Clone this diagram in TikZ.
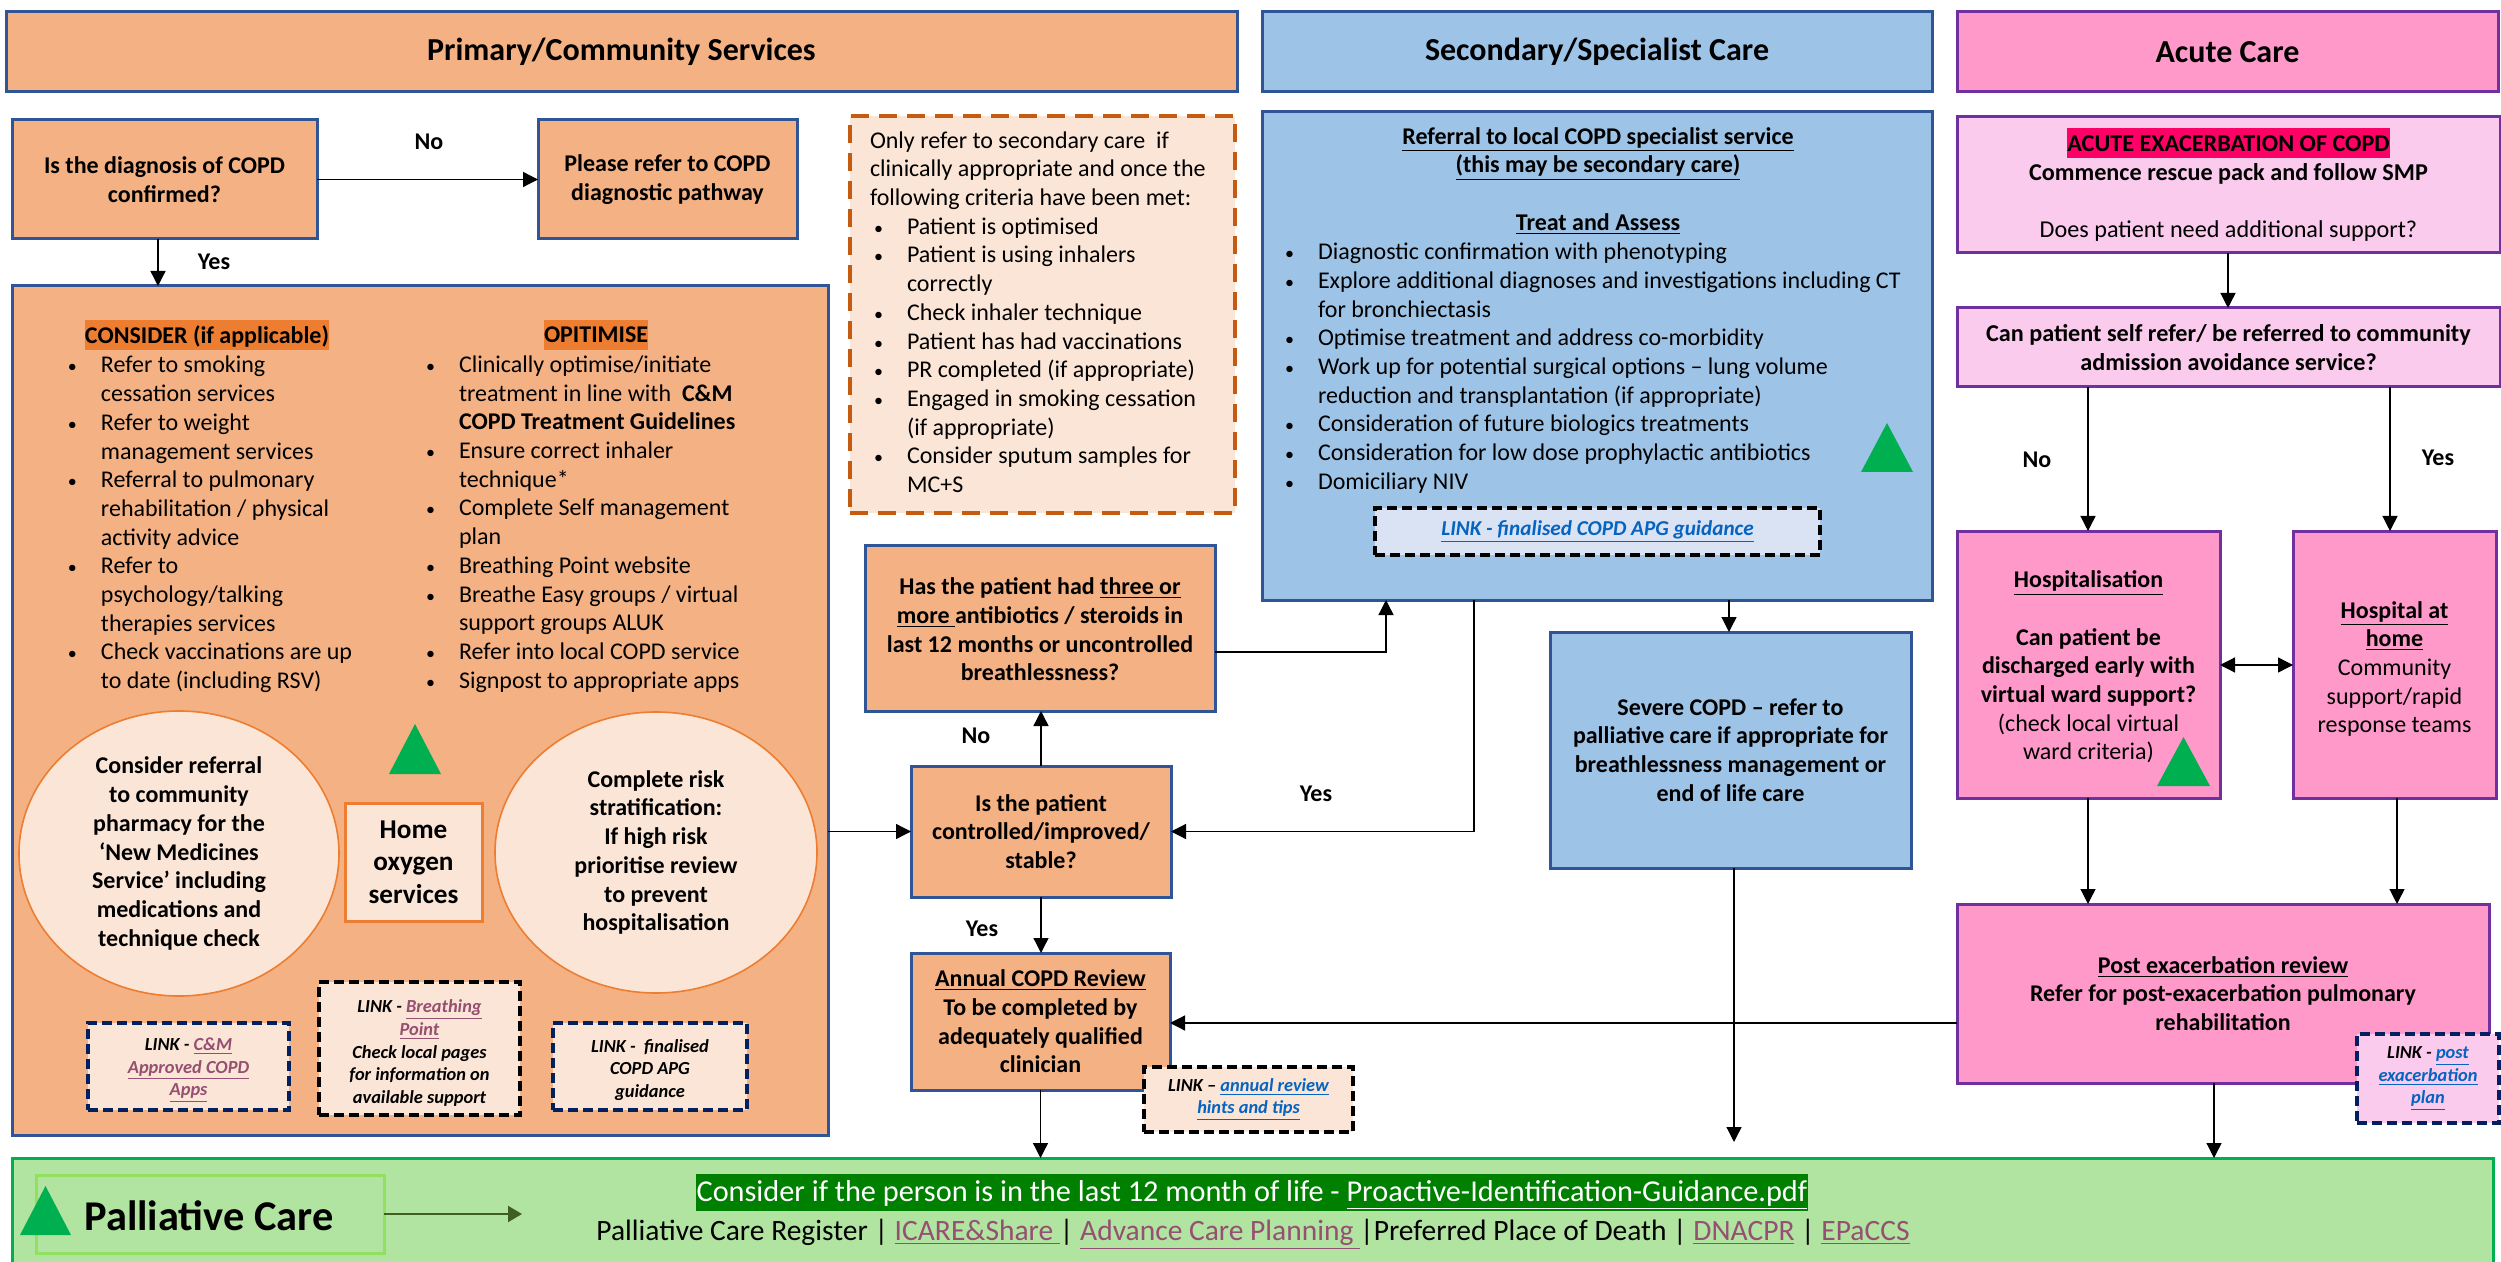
\documentclass[tikz,border=0pt]{standalone}
\usepackage{fontspec}
\setmainfont{Carlito}
\usetikzlibrary{arrows.meta,calc,shapes.geometric}
\definecolor{orangeF}{HTML}{F4B183}
\definecolor{peach}{HTML}{FBE5D6}
\definecolor{blueF}{HTML}{9DC3E6}
\definecolor{blueE}{HTML}{2F5597}
\definecolor{pinkF}{HTML}{FF99C9}
\definecolor{pinkL}{HTML}{FACBEC}
\definecolor{purpleE}{HTML}{7030A0}
\definecolor{greenF}{HTML}{B1E4A0}
\definecolor{greenT}{HTML}{00B050}
\definecolor{greenH}{HTML}{008000}
\definecolor{greenL}{HTML}{92E060}
\definecolor{hiO}{HTML}{ED7D31}
\definecolor{hiR}{HTML}{FF0066}
\definecolor{plum}{HTML}{954F72}
\definecolor{linkB}{HTML}{0563C1}
\definecolor{navy}{HTML}{002060}
\definecolor{dashO}{HTML}{C55A11}
\definecolor{paleB}{HTML}{DAE3F3}
\definecolor{arrowG}{HTML}{3F5F20}
\newcommand\fs[1]{\fontsize{#1}{14.35pt}\selectfont}
\newcommand\bu{\makebox[16.5pt][l]{\fontsize{9pt}{9pt}\selectfont •}}
\newcommand\ind{\hspace*{16.5pt}}
\newcommand\hl[2]{\setlength{\fboxsep}{0pt}\colorbox{#1}{\rule[-3.5pt]{0pt}{15pt}#2}}
\newcommand\dn[1]{\rule{0pt}{#1pt}}
\newcommand\pbox[7]{%
  \pgfmathsetmacro\cx{(#3+#5)/2}\pgfmathsetmacro\cy{(#4+#6)/2}%
  \node[#2,minimum width={(#5-#3)*0.5pt},minimum height={(#6-#4)*0.5pt}] (#1) at (\cx,\cy) {#7};}
\newcommand\tri[4]{%
  \fill[greenT] (#1,#4) -- (#2,#4) -- ({(#1+#2)/2},#3) -- cycle;}
\tikzset{
  base/.style={inner sep=0pt,outer sep=0pt,align=center,font=\fs{12pt}},
  hdrO/.style={base,draw=blueE,line width=1.5pt,fill=orangeF,font=\fs{16pt}\bfseries},
  hdrB/.style={base,draw=blueE,line width=1.5pt,fill=blueF,font=\fs{16pt}\bfseries},
  hdrP/.style={base,draw=purpleE,line width=1.5pt,fill=pinkF,font=\fs{16pt}\bfseries},
  boxO/.style={base,draw=blueE,line width=1.5pt,fill=orangeF,font=\fs{12pt}\bfseries},
  boxB/.style={base,draw=blueE,line width=1.5pt,fill=blueF},
  boxP/.style={base,draw=purpleE,line width=1.5pt,fill=pinkF},
  boxL/.style={base,draw=purpleE,line width=1.5pt,fill=pinkL},
  dashN/.style={base,draw=navy,line width=2pt,dash pattern=on 5pt off 2.5pt,fill=peach,font=\fs{9.2pt}\bfseries\itshape,execute at begin node={\baselineskip=11.4pt}},
  dashK/.style={dashN,draw=black},
  circle1/.style={base,draw=hiO,line width=0.8pt,fill=peach,font=\fs{12pt}\bfseries},
  plain/.style={inner sep=0pt,outer sep=0pt,align=left,font=\fs{12pt}},
  lab/.style={inner sep=0pt,outer sep=0pt,font=\fs{12pt}\bfseries},
  arr/.style={line width=0.65pt,-{Triangle[length=7.5pt,width=7.5pt]}},
  arrB/.style={line width=0.65pt,{Triangle[length=7.5pt,width=7.5pt]}-{Triangle[length=7.5pt,width=7.5pt]}}
}
\begin{document}
\begin{tikzpicture}[x=0.5pt,y=-0.5pt]
\useasboundingbox (0,0) rectangle (2501,1262);
\fill[white] (0,0) rectangle (2501,1262);
% headers
\pbox{hA}{hdrO}{6}{12}{1237}{92}{Primary/Community Services}
\pbox{hB}{hdrB}{1262}{12}{1932}{92}{Secondary/Specialist Care}
\pbox{hC}{hdrP}{1957}{12}{2498}{92}{Acute Care}
% palliative
\pbox{pal}{base,fill=greenF}{12}{1158}{2493}{1262}{}
\draw[greenT,line width=1.5pt] (pal.south west) -- (pal.north west) -- (pal.north east) -- (pal.south east);
% primary
\pbox{q1}{boxO}{12}{120}{317}{239}{Is the diagnosis of COPD\\confirmed?}
\pbox{refer}{boxO}{538}{120}{797}{239}{Please refer to COPD\\diagnostic pathway}
\pbox{big}{base,draw=blueE,line width=1.5pt,fill=orangeF}{12}{286}{828}{1135}{}
\node[plain,anchor=north west] (consider) at (68,320) {%
\hspace*{8.5pt}\hl{hiO}{\textbf{CONSIDER (if applicable)}}\\[0.6pt]
\bu Refer to smoking\\ \ind cessation services\\
\bu Refer to weight\\ \ind management services\\
\bu Referral to pulmonary\\ \ind rehabilitation / physical\\ \ind activity advice\\
\bu Refer to\\ \ind psychology/talking\\ \ind therapies services\\
\bu Check vaccinations are up\\ \ind to date (including RSV)};
\node[plain,anchor=north west] (optimise) at (426,319.5) {%
\hspace*{59pt}\hl{hiO}{\textbf{OPITIMISE}}\\[0.6pt]
\bu Clinically optimise/initiate\\ \ind treatment in line with \ \textbf{C\&M}\\ \ind \textbf{COPD Treatment Guidelines}\\
\bu Ensure correct inhaler\\ \ind technique*\\
\bu Complete Self management\\ \ind plan\\
\bu Breathing Point website\\
\bu Breathe Easy groups / virtual\\ \ind support groups ALUK\\
\bu Refer into local COPD service\\
\bu Signpost to appropriate apps};
\pbox{ell1}{circle1,ellipse}{19}{711}{339}{996}{Consider referral\\to community\\pharmacy for the\\‘New Medicines\\Service’ including\\medications and\\technique check}
\pbox{ell2}{circle1,ellipse}{495}{712}{817}{993}{Complete risk\\stratification:\\If high risk\\prioritise review\\to prevent\\hospitalisation}
\pbox{oxy}{base,draw=hiO,line width=1.5pt,fill=peach,font=\fs{13.6pt}\bfseries,execute at begin node={\baselineskip=16.2pt}}{345}{803}{482}{921}{Home\\oxygen\\services}
\tri{389}{441}{724}{774}
\pbox{l1}{dashN}{88}{1023}{289}{1110}{\dn{10}LINK - \textcolor{plum}{\underline{C\&M}}\\\textcolor{plum}{\underline{Approved COPD}}\\\textcolor{plum}{\underline{Apps}}}
\pbox{l2}{dashK}{319}{982}{520}{1115}{\dn{11}LINK - \textcolor{plum}{\underline{Breathing}}\\\textcolor{plum}{\underline{Point}}\\Check local pages\\for information on\\available support}
\pbox{l3}{dashN}{553}{1023}{747}{1110}{\dn{10}LINK -\ \ finalised\\COPD APG\\guidance}
% criteria
\pbox{crit}{base,draw=dashO,line width=2pt,dash pattern=on 9pt off 5pt,fill=peach}{850}{116}{1235}{513}{}
\node[plain,anchor=north west] (critT) at (870,131.5) {%
Only refer to secondary care\ \ if\\clinically appropriate and once the\\following criteria have been met:\\
\hspace*{2pt}\bu Patient is optimised\\
\hspace*{2pt}\bu Patient is using inhalers\\ \hspace*{2pt}\ind correctly\\
\hspace*{2pt}\bu Check inhaler technique\\
\hspace*{2pt}\bu Patient has had vaccinations\\
\hspace*{2pt}\bu PR completed (if appropriate)\\
\hspace*{2pt}\bu Engaged in smoking cessation\\ \hspace*{2pt}\ind (if appropriate)\\
\hspace*{2pt}\bu Consider sputum samples for\\ \hspace*{2pt}\ind MC+S};
\pbox{has}{boxO}{865}{545}{1215}{711}{\dn{10}Has the patient had \underline{three or}\\\underline{more }antibiotics / steroids in\\last 12 months or uncontrolled\\breathlessness?}
\pbox{ctrl}{boxO}{911}{766}{1171}{897}{Is the patient\\controlled/improved/\\stable?}
\pbox{rev}{boxO}{911}{953}{1170}{1090}{\underline{Annual COPD Review}\\To be completed by\\adequately qualified\\clinician}
\pbox{l4}{dashK}{1144}{1067}{1353}{1132}{LINK -- \textcolor{linkB}{\underline{annual review}}\\\textcolor{linkB}{\underline{hints and tips}}}
% secondary
\pbox{spec}{boxB}{1262}{112}{1932}{600}{}
\node[base,font=\fs{12pt}\bfseries] (specT) at (1598,154) {\underline{Referral to local COPD specialist service}\\\underline{(this may be secondary care)}};
\node[lab] (treat) at (1598,224) {\underline{Treat and Assess}};
\node[plain,anchor=north west] (specL) at (1285,243) {%
\bu Diagnostic confirmation with phenotyping\\
\bu Explore additional diagnoses and investigations including CT\\ \ind for bronchiectasis\\
\bu Optimise treatment and address co-morbidity\\
\bu Work up for potential surgical options -- lung volume\\ \ind reduction and transplantation (if appropriate)\\
\bu Consideration of future biologics treatments\\
\bu Consideration for low dose prophylactic antibiotics\\
\bu Domiciliary NIV};
\tri{1861}{1913}{423}{472}
\pbox{l5}{dashK,fill=paleB,font=\fs{10.6pt}\bfseries\itshape}{1375}{508}{1820}{555}{\textcolor{linkB}{\underline{LINK - finalised COPD APG guidance}}}
\pbox{sev}{boxB,font=\fs{12pt}\bfseries}{1550}{632}{1911}{868}{Severe COPD -- refer to\\palliative care if appropriate for\\breathlessness management or\\end of life care}
% acute
\pbox{ac1}{boxL,font=\fs{12.1pt}}{1957}{117}{2500}{253}{\hl{hiR}{\textbf{ACUTE EXACERBATION OF COPD}}\\\textbf{Commence rescue pack and follow SMP}\\[14.35pt]Does patient need additional support?}
\pbox{ac2}{boxL,font=\fs{12.1pt}\bfseries}{1957}{308}{2500}{387}{Can patient self refer/ be referred to community\\admission avoidance service?}
\pbox{hosp}{boxP}{1957}{531}{2220}{798}{\dn{11}\textbf{\underline{Hospitalisation}}\\[14.35pt]\textbf{Can patient be}\\\textbf{discharged early with}\\\textbf{virtual ward support?}\\(check local virtual\\ward criteria)}
\tri{2157}{2210}{737}{786}
\pbox{home}{boxP}{2293}{531}{2496}{798}{\dn{13}\textbf{\underline{Hospital at}}\\\textbf{\underline{home}}\\Community\\support/rapid\\response teams}
\pbox{post}{boxP,font=\fs{12pt}\bfseries}{1957}{904}{2489}{1083}{\underline{Post exacerbation review}\\Refer for post-exacerbation pulmonary\\rehabilitation}
\pbox{l6}{dashN,fill=pinkL}{2357}{1034}{2499}{1123}{LINK - \textcolor{linkB}{\underline{post}}\\\textcolor{linkB}{\underline{exacerbation}}\\\textcolor{linkB}{\underline{plan}}}
% palliative contents
\pbox{palB}{base,draw=greenL,line width=1.5pt}{36}{1175}{384}{1253}{}
\tri{20}{71}{1186}{1235}
\node[lab,font=\fs{21.2pt}\bfseries] (palT) at (209,1216) {Palliative Care};
\pbox{palH}{base,fill=greenH}{696}{1174}{1808}{1211}{}
\node[base,text=white,font=\fs{15.15pt}] (palHt) at (1252,1195) {Consider if the person is in the last 12 month of life - \underline{Proactive-Identification-Guidance.pdf}};
\node[base,font=\fs{14.75pt}] (palR) at (1253,1234) {Palliative Care Register | \textcolor{plum}{\underline{ICARE\&Share }}| \textcolor{plum}{\underline{Advance Care Planning }}|Preferred Place of Death | \textcolor{plum}{\underline{DNACPR}} | \textcolor{plum}{\underline{EPaCCS}}};
\coordinate (palA) at (522,1217);
\draw[arrowG,line width=1pt,-{Triangle[length=7pt,width=8pt]}] (palB.east) -- (palB.east -| palA);
% labels
\node[lab] (tNo1) at (429,142) {No};
\node[lab] (tYes1) at (214,262) {Yes};
\node[lab] (tNo2) at (976,736) {No};
\node[lab] (tYes2) at (1316,794) {Yes};
\node[lab] (tYes3) at (982,929) {Yes};
\node[lab] (tNo3) at (2037,460) {No};
\node[lab] (tYes4) at (2438,458) {Yes};
% connectors
\draw[arr] (q1.east) -- (refer.west);
\coordinate (a1) at (158,260);
\draw[arr] (q1.south -| a1) -- (big.north -| a1);
\draw[arr] (big.east |- ctrl.west) -- (ctrl.west);
\draw[arr] (ctrl.north) -- (has.south -| ctrl.north);
\draw[arr] (ctrl.south) -- (rev.north -| ctrl.south);
\coordinate (a2) at (1386,652);
\draw[arr] (has.east |- a2) -| (spec.south -| a2);
\coordinate (a3) at (1474,831);
\draw[arr] (spec.south -| a3) |- (ctrl.east);
\coordinate (a4) at (1729,620);
\draw[arr] (spec.south -| a4) -- (sev.north -| a4);
\coordinate (a5) at (1734,1142);
\draw[arr] (sev.south -| a5) -- (a5);
\draw[arr] (rev.south) -- (pal.north -| rev.south);
\coordinate (a6) at (1000,1023);
\draw[arr] (post.west |- a6) -- (rev.east |- a6);
\coordinate (a7) at (2214,1100);
\draw[arr] (post.south -| a7) -- (pal.north -| a7);
\coordinate (a8) at (2228,280);
\draw[arr] (ac1.south -| a8) -- (ac2.north -| a8);
\coordinate (a9) at (2088,460);
\draw[arr] (ac2.south -| a9) -- (hosp.north -| a9);
\coordinate (a10) at (2390,460);
\draw[arr] (ac2.south -| a10) -- (home.north -| a10);
\coordinate (a11) at (2250,665);
\draw[arrB] (hosp.east |- a11) -- (home.west |- a11);
\draw[arr] (hosp.south -| a9) -- (post.north -| a9);
\coordinate (a12) at (2397,850);
\draw[arr] (home.south -| a12) -- (post.north -| a12);
\end{tikzpicture}
\end{document}
